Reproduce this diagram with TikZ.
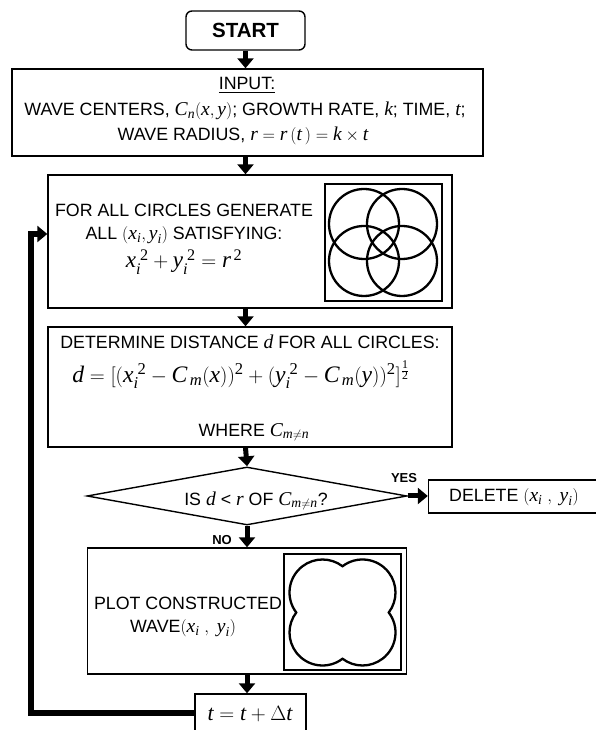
\documentclass[tikz,border=0pt]{standalone}
\usepackage{amsmath}
\usepackage[no-math]{fontspec}
\setmainfont{Liberation Sans}
\newfontfamily\tim{Liberation Serif}[Scale=1.1]
\newcommand\V[1]{\text{\tim\itshape #1}}
\newcommand\N[1]{\text{\tim #1}}
\usetikzlibrary{arrows.meta,shapes.geometric}
\begin{document}
\begin{tikzpicture}[x=1pt,y=1pt,
  box/.style={draw,line width=1.4pt,rectangle,inner sep=0pt},
  flow/.style={line width=5pt,-{Triangle[width=16pt,length=10pt]}},
  txt/.style={font=\fontsize{17.8}{20}\selectfont,inner sep=0pt},
  eqn/.style={font=\fontsize{21}{26}\selectfont,inner sep=0pt},
  lbl/.style={font=\bfseries\fontsize{13}{15}\selectfont,inner sep=0pt},
  pic/.style={draw,line width=2pt,rectangle,inner sep=0pt},
  curve/.style={line width=2.3pt},
]
\useasboundingbox (0,0) rectangle (596,730);
% boxes
\node[box,rounded corners=6pt,minimum width=119pt,minimum height=39pt,font=\bfseries\fontsize{20.5}{23}\selectfont] (start) at (245.5,699.5) {START};
\node[box,minimum width=471pt,minimum height=87pt] (input) at (247.5,617.5) {};
\node[box,minimum width=404pt,minimum height=133pt] (box2) at (250,488.5) {};
\node[box,minimum width=404pt,minimum height=120pt] (box3) at (250,343) {};
\node[draw,line width=1.4pt,shape=diamond,inner sep=0pt,minimum width=320pt,minimum height=58pt] (dec) at (247,234) {};
\node[box,minimum width=172pt,minimum height=33pt] (del) at (514.5,233.5) {};
\node[box,minimum width=318.5pt,minimum height=126pt] (box5) at (247,119) {};
\node[box,minimum width=111pt,minimum height=38pt] (tbox) at (250.5,17) {};
% texts
\node[txt] (t1) at (247,645) {\underline{INPUT:}};
\node[txt] (t2) at (245,619) {WAVE CENTERS, $\V{C}_{\V{n}}(\V{x},\V{y})$; GROWTH RATE, \V{k}; TIME, \V{t};};
\node[txt] (t3) at (243,594) {WAVE RADIUS, $\V{r}=\V{r}\,(\V{t}\,)=\V{k}\times\V{t}$};
\node[txt] (t4) at (184,520) {FOR ALL CIRCLES GENERATE};
\node[txt] (t5) at (184,495) {ALL $(\V{x}_{\V{i}},\V{y}_{\V{i}})$ SATISFYING:};
\node[eqn] (t6) at (184,468) {$\V{x}_{\V{i}}^{\;\N{2}}+\V{y}_{\V{i}}^{\;\N{2}}=\V{r}^{\,\N{2}}$};
\node[txt] (t7) at (250,388) {DETERMINE DISTANCE \V{d} FOR ALL CIRCLES:};
\node[eqn,font=\fontsize{21.5}{26}\selectfont] (t8) at (241,355) {$\V{d}=[(\V{x}_{\V{i}}^{\;\N{2}}-\V{C}{}_{\,\V{m}}(\V{x}))^{\N{2}}+(\V{y}_{\V{i}}^{\;\N{2}}-\V{C}{}_{\,\V{m}}(\V{y}))^{\N{2}}]^{\frac{\N{1}}{\N{2}}}$};
\node[txt] (t9) at (254,298) {WHERE $\V{C}_{\V{m}\neq\V{n}}$};
\node[txt] (t10) at (256,229) {IS \V{d} < \V{r} OF $\V{C}_{\V{m}\neq\V{n}}$?};
\node[txt] (t11) at (514,233) {DELETE $(\V{x}_{\V{i}}\;,\;\V{y}_{\V{i}})$};
\node[txt] (t12) at (188,127) {PLOT CONSTRUCTED};
\node[txt] (t13) at (183,102) {WAVE$(\V{x}_{\V{i}}\;,\;\V{y}_{\V{i}})$};
\node[txt,font=\fontsize{20}{24}\selectfont] (t14) at (250,16) {$\V{t}=\V{t}+\Delta\V{t}$};
\node[lbl] (yes) at (404,252) {YES};
\node[lbl] (no) at (222,190) {NO};
% pictures
\node[pic,minimum width=117pt,minimum height=117pt] (sq1) at (383,487.5) {};
\foreach \dx/\dy in {-19/18.5,19/18.5,-19/-18.5,19/-18.5}
  \draw[curve] ([shift={(\dx,\dy)}]sq1.center) circle[radius=35];
\node[pic,minimum width=117pt,minimum height=116pt] (sq2) at (342.5,117.5) {};
\draw[curve] ([shift={(0,46.25)}]sq2.center)
  arc[start angle=127.3,end angle=-37.3,radius=33]
  arc[start angle=37.3,end angle=-127.3,radius=33]
  arc[start angle=-52.7,end angle=-217.3,radius=33]
  arc[start angle=-142.7,end angle=-307.3,radius=33] -- cycle;
% connectors
\draw[flow] (start.south) -- (start.south |- input.north);
\draw[flow] (input.south -| start.south) -- (start.south |- box2.north);
\draw[flow] (box2.south -| start.south) -- (start.south |- box3.north);
\draw[flow] (box3.south -| start.south) -- (dec.north);
\draw[flow] (dec.south) -- (dec.south |- box5.north);
\draw[flow] (box5.south -| dec.south) -- (dec.south |- tbox.north);
\draw[flow] (dec.east) -- (del.west |- dec.east);
\coordinate (lp) at (31,496);
\draw[line width=6pt,-{Triangle[width=16pt,length=10pt]}] (tbox.west) -| (lp) -- (lp -| box2.west);
\end{tikzpicture}
\end{document}
